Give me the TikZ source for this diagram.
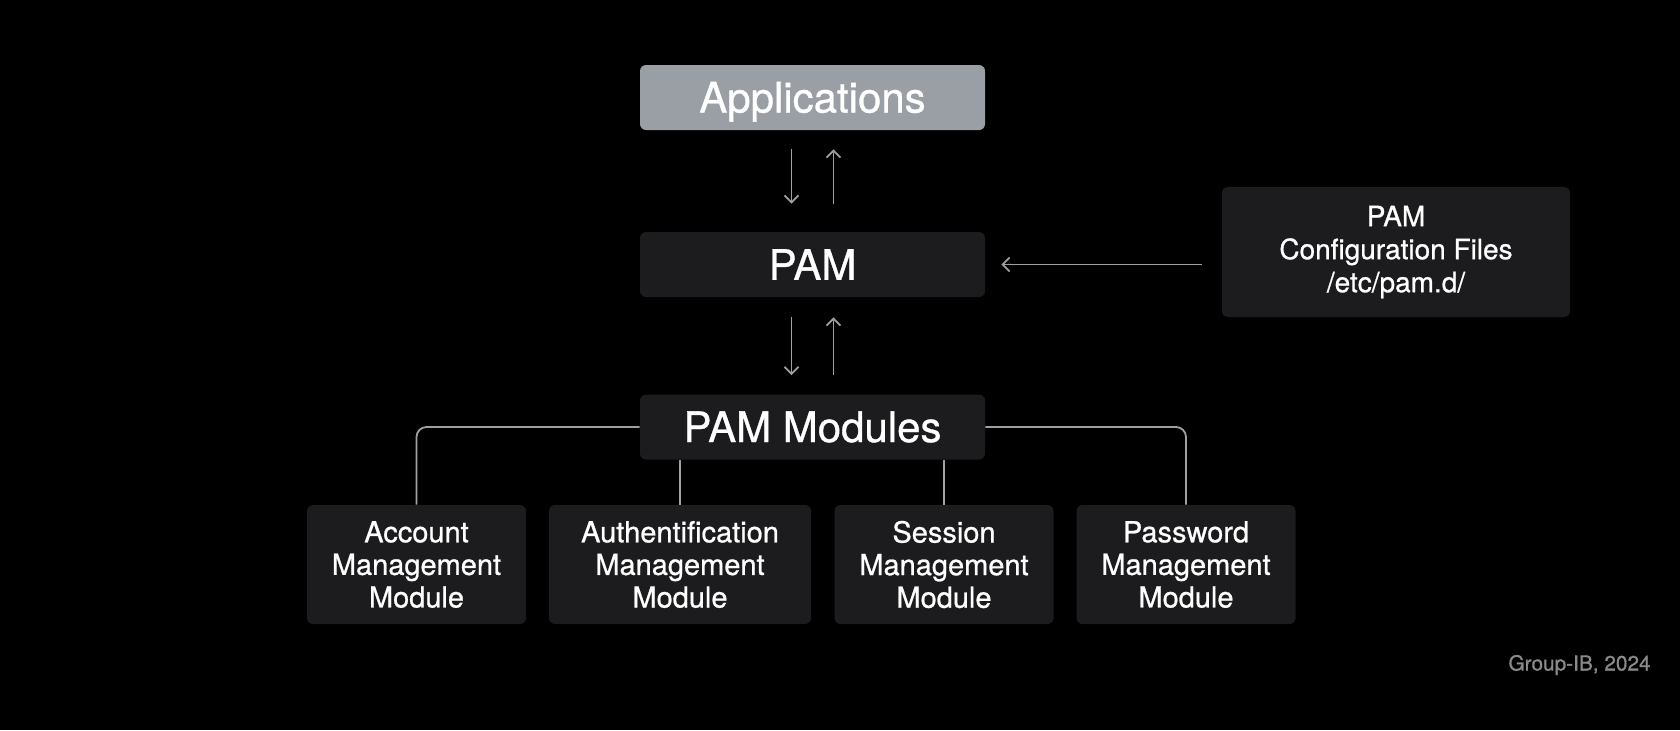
\documentclass[tikz,border=0pt]{standalone}
\usepackage{fontspec}
\setmainfont{TeX Gyre Heros}[FakeBold=0.8]
\usepackage{tikz}
\usetikzlibrary{arrows.meta, positioning}
\definecolor{boxbg}{HTML}{1C1C1E}
\definecolor{appbg}{HTML}{9A9EA5}
\definecolor{wire}{HTML}{A0A0A0}
\definecolor{credit}{HTML}{8A8A8A}

\begin{document}
\begin{tikzpicture}[
    x=0.5pt, y=-0.5pt,
    every node/.style={text=white, align=center, inner sep=0pt},
    block/.style ={fill=boxbg, rounded corners=3pt, font=\fontsize{21}{25}\selectfont,
                   minimum width=172.5pt, minimum height=32.5pt},
    appbox/.style={block, fill=appbg},
    cfgbox/.style={fill=boxbg, rounded corners=3pt, font=\fontsize{14}{16.5}\selectfont,
                   minimum width=174pt, minimum height=65pt},
    modbox/.style={fill=boxbg, rounded corners=3pt, font=\fontsize{14.5}{16.3}\selectfont,
                   minimum width=109.5pt, minimum height=59.5pt},
    arr/.style={-{Straight Barb[length=3.5pt, width=7pt]}, draw=wire, line width=0.9pt},
    link/.style={draw=wire, line width=0.9pt, rounded corners=5pt}
]
\useasboundingbox[fill=black] (0,0) rectangle (1680,730);

\node[appbox, text height=16pt, text depth=1pt] (app) at (812.5, 97.5) {Applications};
\node[block]  (pam)  at (812.5, 264.5) {PAM};
\node[cfgbox] (cfg)  at (1396, 252)    {PAM\\Configuration Files\\/etc/pam.d/};
\node[block]  (mod)  at (812.5, 427)   {PAM Modules};

\node[modbox] (acc)  at (416.5, 564.5) {Account\\Management\\Module};
\node[modbox, minimum width=131pt] (auth) at (680, 564.5) {Authentification\\Management\\Module};
\node[modbox] (sess) at (944, 564.5)   {Session\\Management\\Module};
\node[modbox] (pwd)  at (1186, 564.5)  {Password\\Management\\Module};

\node[text=credit, font=\fontsize{10.4}{12}\selectfont, anchor=east] (cr) at (1651, 665) {Group-IB, 2024};

% app <-> pam
\draw[arr] ([xshift=-10.5pt, yshift=-9.5pt]app.south) -- ([xshift=-10.5pt, yshift=14pt]pam.north);
\draw[arr] ([xshift=10.5pt, yshift=14pt]pam.north) -- ([xshift=10.5pt, yshift=-9.5pt]app.south);
% pam <-> modules
\draw[arr] ([xshift=-10.5pt, yshift=-10pt]pam.south) -- ([xshift=-10.5pt, yshift=9.5pt]mod.north);
\draw[arr] ([xshift=10.5pt, yshift=9.5pt]mod.north) -- ([xshift=10.5pt, yshift=-10pt]pam.south);
% config files
\draw[arr] ([xshift=-10pt]cfg.west |- pam.east) -- ([xshift=8pt]pam.east);

% module tree
\draw[link] (mod.west) -| (acc.north);
\draw[link] (mod.east) -| (pwd.north);
\draw[link] (auth.north) -- (auth.north |- mod.south);
\draw[link] (sess.north) -- (sess.north |- mod.south);
\end{tikzpicture}
\end{document}
